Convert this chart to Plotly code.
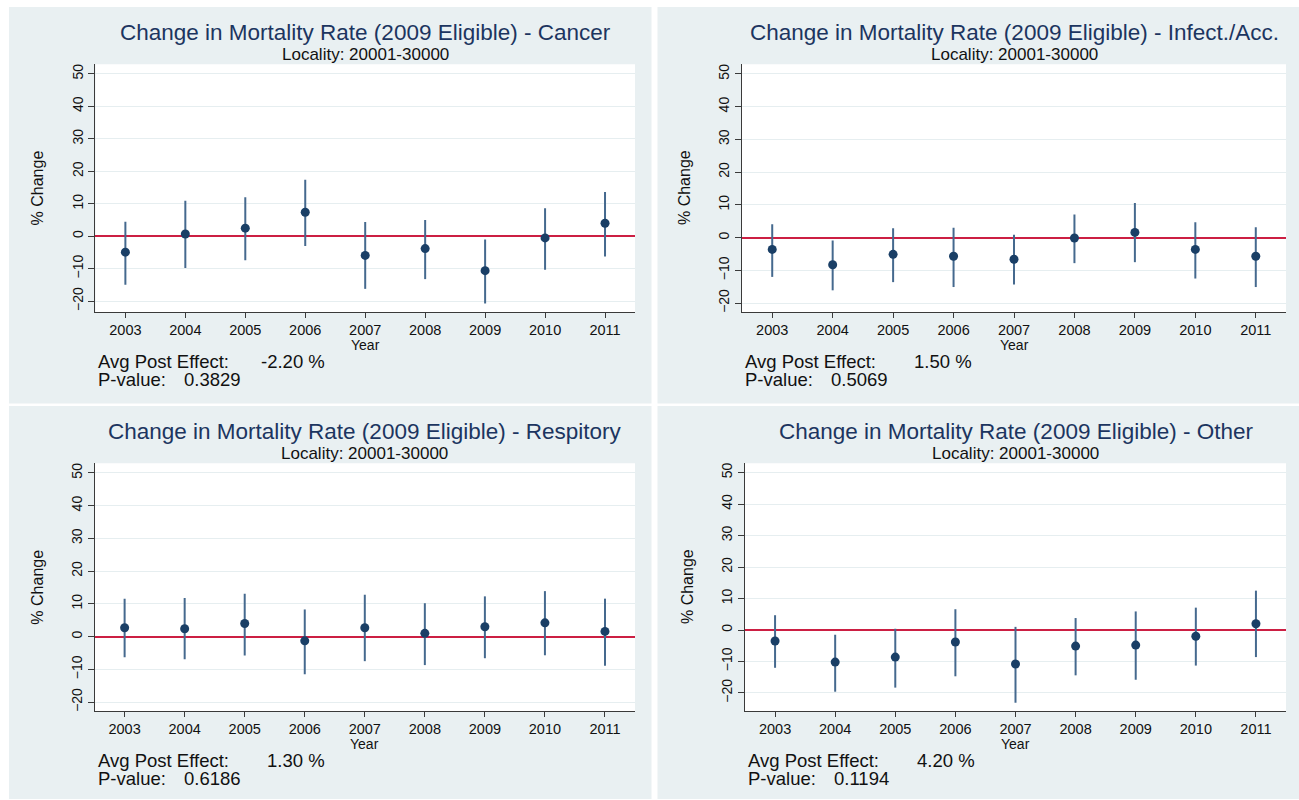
import plotly.graph_objects as go

W, H = 1299, 800

years = [2003, 2004, 2005, 2006, 2007, 2008, 2009, 2010, 2011]
y_ticks = [-20, -10, 0, 10, 20, 30, 40, 50]

cancer_est = [-4.9, 0.7, 2.5, 7.4, -5.9, -3.8, -10.6, -0.5, 4.0]
cancer_lo = [-14.9, -9.8, -7.4, -3.0, -16.2, -13.2, -20.7, -10.3, -6.2]
cancer_hi = [4.5, 10.9, 12.0, 17.4, 4.4, 5.0, -1.0, 8.6, 13.6]

infect_est = [-3.6, -8.3, -5.1, -5.7, -6.6, -0.1, 1.6, -3.6, -5.7]
infect_lo = [-12.0, -16.1, -13.6, -15.1, -14.3, -7.8, -7.5, -12.5, -15.1]
infect_hi = [4.1, -0.9, 2.9, 3.0, 0.9, 7.1, 10.6, 4.7, 3.2]

resp_est = [2.7, 2.4, 4.0, -1.3, 2.7, 1.0, 3.0, 4.2, 1.6]
resp_lo = [-6.3, -6.9, -5.8, -11.5, -7.5, -8.7, -6.6, -5.7, -8.9]
resp_hi = [11.6, 11.8, 13.1, 8.3, 12.8, 10.2, 12.3, 13.9, 11.6]

other_est = [-3.5, -10.2, -8.6, -3.8, -10.8, -5.1, -4.8, -2.0, 2.0]
other_lo = [-12.0, -19.6, -18.3, -14.7, -23.1, -14.4, -15.8, -11.3, -8.6]
other_hi = [4.7, -1.5, 0.4, 6.6, 1.0, 3.8, 5.9, 7.1, 12.5]

titles = [
    "Change in Mortality Rate (2009 Eligible) - Cancer",
    "Change in Mortality Rate (2009 Eligible) - Infect./Acc.",
    "Change in Mortality Rate (2009 Eligible) - Respitory",
    "Change in Mortality Rate (2009 Eligible) - Other",
]
subtitle = "Locality: 20001-30000"
avg_effects = ["-2.20 %", "1.50 %", "1.30 %", "4.20 %"]
p_values = ["0.3829", "0.5069", "0.6186", "0.1194"]

series = [
    (cancer_est, cancer_lo, cancer_hi),
    (infect_est, infect_lo, infect_hi),
    (resp_est, resp_lo, resp_hi),
    (other_est, other_lo, other_hi),
]

# layout geometry in pixels: panel box (x0, y0, x1, y1), plot box, y range
boxes = [(9, 6, 651.5, 403.5), (657.5, 6, 1299, 403.5),
         (9, 406, 651.5, 800), (657.5, 406, 1299, 800)]
plots = [(95.4, 63.3, 635, 311.7), (742, 63.3, 1286, 311.7),
         (94.6, 463.3, 635, 711.7), (745, 463.3, 1286, 711.7)]
yranges = [[-23.3, 53.0], [-22.7, 53.0], [-22.7, 53.0], [-25.7, 53.0]]

NAVY = "#1a3f66"
BAR = "#45698e"
RED = "#cc1f43"
TITLE = "#1c3560"
PANEL_BG = "#e9f0f2"
GRID = "#e6eef0"
AXIS = "#3a3a3a"
FONT = "Liberation Sans, Arial, Helvetica, sans-serif"


def px(x):
    return x / W


def py(y):
    return 1 - y / H


fig = go.Figure()
shapes = []
annotations = []
layout = {}

for i in range(4):
    n = i + 1
    sfx = "" if n == 1 else str(n)
    est, lo, hi = series[i]
    bx0, by0, bx1, by1 = boxes[i]
    x0, y0, x1, y1 = plots[i]

    shapes.append(dict(type="rect", xref="paper", yref="paper", layer="below",
                       x0=px(bx0), x1=px(bx1), y0=py(by1), y1=py(by0),
                       fillcolor=PANEL_BG, line=dict(width=0)))
    shapes.append(dict(type="rect", xref="paper", yref="paper", layer="below",
                       x0=px(x0), x1=px(x1), y0=py(y1), y1=py(y0),
                       fillcolor="white", line=dict(width=0)))

    fig.add_trace(go.Scatter(
        x=years, y=est, mode="markers", xaxis="x" + sfx, yaxis="y" + sfx,
        marker=dict(color=NAVY, size=9, line=dict(width=0)),
        error_y=dict(type="data", symmetric=False,
                     array=[h - e for h, e in zip(hi, est)],
                     arrayminus=[e - l for e, l in zip(est, lo)],
                     width=0, thickness=2, color=BAR),
        showlegend=False, hoverinfo="skip"))

    layout["xaxis" + sfx] = dict(
        domain=[px(x0), px(x1)], anchor="y" + sfx, range=[2002.5, 2011.5],
        tickmode="array", tickvals=years, ticktext=[str(y) for y in years],
        showline=True, linecolor=AXIS, linewidth=1, ticks="outside", ticklen=5,
        tickcolor=AXIS, tickwidth=1, showgrid=False, zeroline=False,
        tickfont=dict(size=14.5, color="#111", family=FONT), fixedrange=True)
    layout["yaxis" + sfx] = dict(
        domain=[py(y1), py(y0)], anchor="x" + sfx, range=yranges[i],
        tickmode="array", tickvals=y_ticks, tickangle=-90,
        showline=True, linecolor=AXIS, linewidth=1, ticks="outside", ticklen=6,
        tickcolor=AXIS, tickwidth=1, showgrid=True, gridcolor=GRID, gridwidth=1,
        zeroline=True, zerolinecolor=RED, zerolinewidth=1.5,
        tickfont=dict(size=14, color="#111", family=FONT), fixedrange=True)

    cx = (x0 + x1) / 2
    annotations += [
        dict(text=titles[i], x=px(cx), y=py(y0 - 32), xref="paper", yref="paper",
             xanchor="center", yanchor="middle", showarrow=False,
             font=dict(size=22.5, color=TITLE, family=FONT)),
        dict(text=subtitle, x=px(cx), y=py(y0 - 10), xref="paper", yref="paper",
             xanchor="center", yanchor="middle", showarrow=False,
             font=dict(size=17, color="#111", family=FONT)),
        dict(text="% Change", x=px(x0 - 58), y=py((y0 + y1) / 2), xref="paper",
             yref="paper", xanchor="center", yanchor="middle", textangle=-90,
             showarrow=False, font=dict(size=16, color="#111", family=FONT)),
        dict(text="Year", x=px(cx), y=py(y1 + 33), xref="paper", yref="paper",
             xanchor="center", yanchor="middle", showarrow=False,
             font=dict(size=14, color="#111", family=FONT)),
        dict(text="Avg Post Effect:", x=px(x0 + 2), y=py(y1 + 49.5), xref="paper",
             yref="paper", xanchor="left", yanchor="middle", showarrow=False,
             borderpad=0, font=dict(size=18.5, color="#111", family=FONT)),
        dict(text=avg_effects[i], x=px(x0 + 231), y=py(y1 + 49.5), xref="paper",
             yref="paper", xanchor="right", yanchor="middle", showarrow=False,
             borderpad=0, font=dict(size=18.5, color="#111", family=FONT)),
        dict(text="P-value:", x=px(x0 + 2), y=py(y1 + 67.5), xref="paper",
             yref="paper", xanchor="left", yanchor="middle", showarrow=False,
             borderpad=0, font=dict(size=18.5, color="#111", family=FONT)),
        dict(text=p_values[i], x=px(x0 + 88), y=py(y1 + 67.5), xref="paper",
             yref="paper", xanchor="left", yanchor="middle", showarrow=False,
             borderpad=0, font=dict(size=18.5, color="#111", family=FONT)),
    ]

fig.update_layout(
    width=W, height=H, autosize=False,
    margin=dict(l=0, r=0, t=0, b=0, pad=0),
    paper_bgcolor="white", plot_bgcolor="rgba(0,0,0,0)",
    font=dict(family=FONT, color="#111"),
    shapes=shapes, annotations=annotations, showlegend=False,
    **layout)

fig.write_html("out.html", config={"displayModeBar": False},
               post_script="document.body.style.margin='0';"
                           "document.body.style.overflow='hidden';")
